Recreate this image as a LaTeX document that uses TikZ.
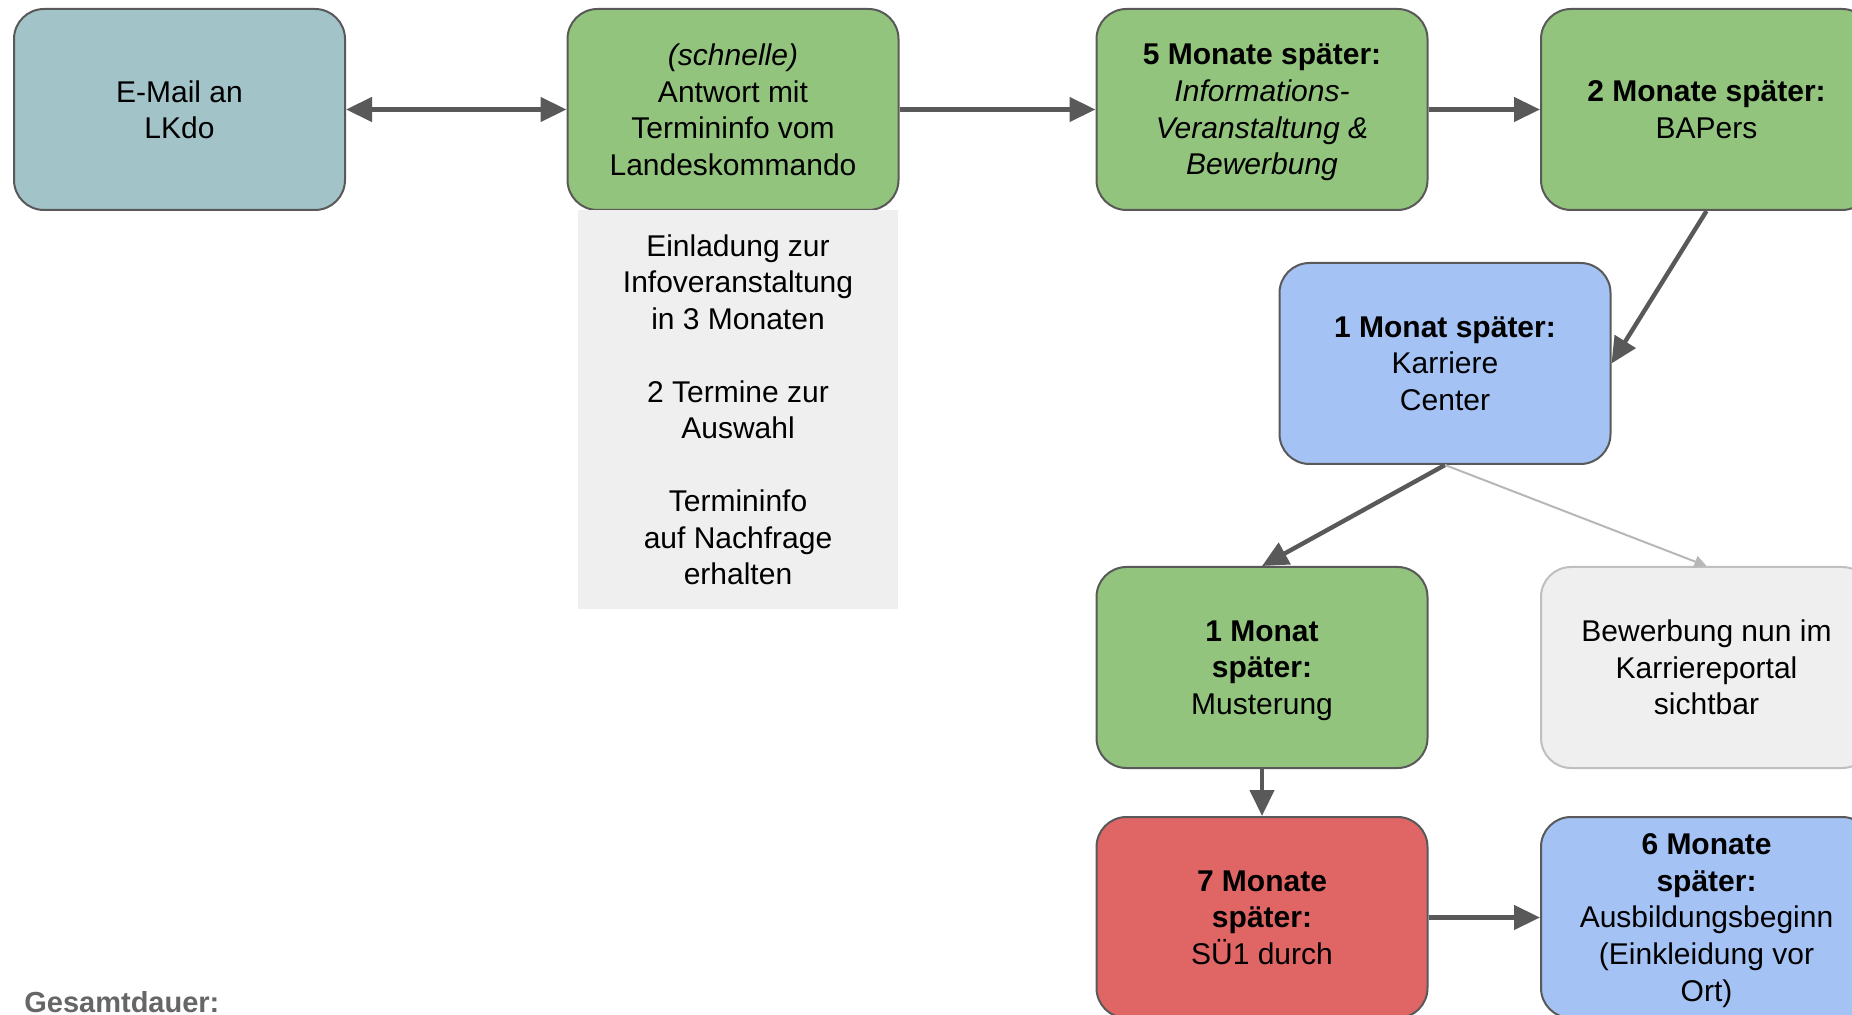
\documentclass[tikz,border=0pt]{standalone}
\usepackage{fontspec}
\setmainfont{Liberation Sans}
\usetikzlibrary{arrows.meta}
\definecolor{cyanbox}{HTML}{A2C4C9}
\definecolor{greenbox}{HTML}{93C47D}
\definecolor{bluebox}{HTML}{A4C2F4}
\definecolor{redbox}{HTML}{E06666}
\definecolor{lightbox}{HTML}{EFEFEF}
\definecolor{edgegray}{HTML}{595959}
\definecolor{thingray}{HTML}{B7B7B7}
\definecolor{notegray}{HTML}{666666}
\begin{document}
\begin{tikzpicture}[x=0.5pt,y=-0.5pt,
  box/.style={draw=edgegray, line width=1pt, rounded corners=15pt,
    minimum width=165.5pt, minimum height=100.5pt, align=center,
    font=\fontsize{15}{18.3}\selectfont, inner sep=0pt, text depth=0pt},
  flow/.style={draw=edgegray, line width=2.2pt,
    -{Triangle[length=13pt,width=12pt]}},
  biflow/.style={draw=edgegray, line width=2.2pt,
    {Triangle[length=13pt,width=12pt]}-{Triangle[length=13pt,width=12pt]}},
  thinflow/.style={draw=thingray, line width=1pt,
    -{Triangle[length=6pt,width=6pt]}},
  notebox/.style={fill=lightbox, minimum width=160pt, minimum height=199.5pt,
    align=center, inner sep=0pt, font=\fontsize{15}{18.25}\selectfont,
    text depth=-3.6pt}
]
\useasboundingbox (0,0) rectangle (1852,1015);

\node[box, fill=cyanbox] (mail) at (179.5,109.5) {E-Mail an\\LKdo};
\node[box, fill=greenbox] (antwort) at (733,109.5)
  {\textit{(schnelle)}\\Antwort mit\\Termininfo vom\\Landeskommando};
\node[box, fill=greenbox] (info) at (1262,109.5)
  {\textbf{5 Monate später:}\\\textit{Informations-}\\\textit{Veranstaltung \&}\\\textit{Bewerbung}};
\node[box, fill=greenbox] (bapers) at (1706.5,109.5)
  {\textbf{2 Monate später:}\\BAPers};
\node[box, fill=bluebox] (karriere) at (1445,363.5)
  {\textbf{1 Monat später:}\\Karriere\\Center};
\node[box, fill=greenbox] (muster) at (1262,667.5)
  {\textbf{1 Monat}\\\textbf{später:}\\Musterung};
\node[box, fill=lightbox, draw=lightbox!80!black] (portal) at (1706.5,667.5)
  {Bewerbung nun im\\Karriereportal\\sichtbar};
\node[box, fill=redbox] (sue) at (1262,917.5)
  {\textbf{7 Monate}\\\textbf{später:}\\SÜ1 durch};
\node[box, fill=bluebox] (ausb) at (1706.5,917.5)
  {\textbf{6 Monate}\\\textbf{später:}\\Ausbildungsbeginn\\(Einkleidung vor\\Ort)};

\node[notebox] (note) at (738,409.5)
  {Einladung zur\\Infoveranstaltung\\in 3 Monaten\\[18.2pt]2 Termine zur\\Auswahl\\[18.2pt]Termininfo\\auf Nachfrage\\erhalten};

\node[anchor=west, inner sep=0pt, text=notegray,
  font=\fontsize{14.5}{17}\selectfont\bfseries] (gesamt) at (24,1002) {Gesamtdauer:};

\draw[biflow] (mail) -- (antwort);
\draw[flow] (antwort) -- (info);
\draw[flow] (info) -- (bapers);
\draw[flow] (bapers.south) -- (karriere.east);
\draw[flow] (karriere.south) -- (muster.north);
\draw[thinflow] (karriere.south) -- (portal.north);
\draw[flow] (muster) -- (sue);
\draw[flow] (sue) -- (ausb);
\end{tikzpicture}
\end{document}
